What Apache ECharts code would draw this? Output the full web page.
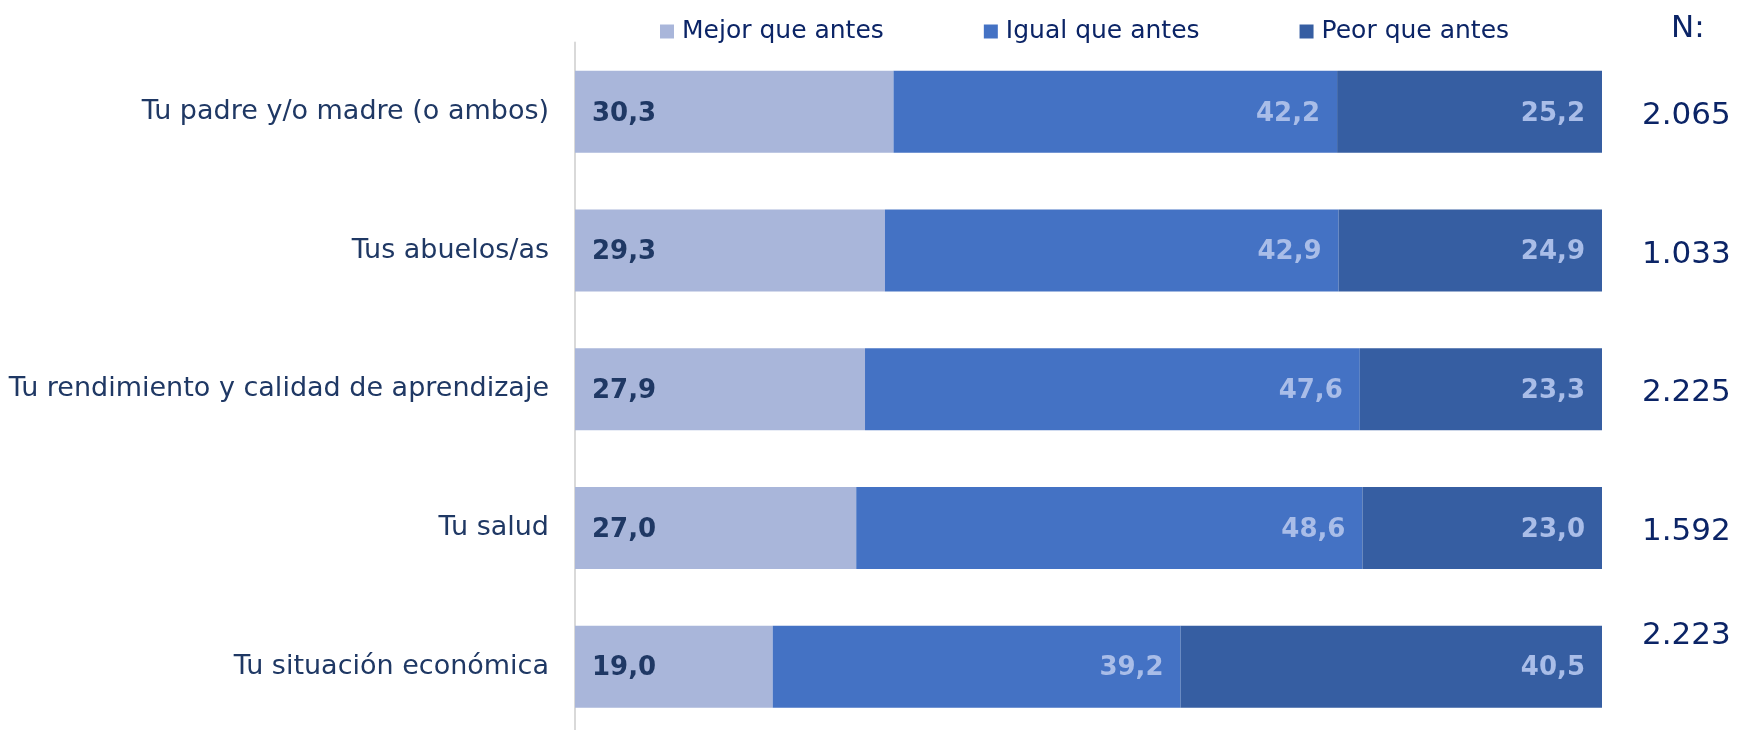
<!DOCTYPE html>
<html><head><meta charset="utf-8">
<script src="https://cdn.jsdelivr.net/npm/echarts@6/dist/echarts.min.js"></script>
<style>html,body{margin:0;padding:0;background:#fff}#c{width:1738px;height:730px}</style>
</head><body><div id="c"></div>
<script>
const categories = ['Tu padre y/o madre (o ambos)','Tus abuelos/as','Tu rendimiento y calidad de aprendizaje','Tu salud','Tu situación económica'];
const mejor = [30.3, 29.3, 27.9, 27.0, 19.0];
const igual = [42.2, 42.9, 47.6, 48.6, 39.2];
const peor  = [25.2, 24.9, 23.3, 23.0, 40.5];
const nValues = ['2.065','1.033','2.225','1.592','2.223'];
const seriesNames = ['Mejor que antes','Igual que antes','Peor que antes'];
const colors = ['#A9B6DA','#4472C4','#365EA2'];

const raw = [mejor, igual, peor];
const totals = categories.map((_, i) => mejor[i] + igual[i] + peor[i]);
const fmt = v => v.toFixed(1).replace('.', ',');
const FONT = 'DejaVu Sans';

const series = raw.map((arr, s) => ({
  name: seriesNames[s],
  type: 'bar',
  stack: 'all',
  barWidth: 82,
  itemStyle: { color: colors[s] },
  data: arr.map((v, i) => ({ value: v / totals[i] * 100, raw: v })),
  label: {
    show: true,
    position: s === 0 ? 'insideLeft' : 'insideRight',
    distance: 17,
    offset: [0, 2],
    fontFamily: FONT,
    fontWeight: 'bold',
    fontSize: 26,
    color: s === 0 ? '#1F3864' : '#A9BDE8',
    formatter: p => fmt(p.data.raw)
  }
}));

const chart = echarts.init(document.getElementById('c'), null, { renderer: 'canvas' });
chart.setOption({
  animation: false,
  title: {
    text: 'N:', left: 1666, top: 8,
    textStyle: { fontFamily: FONT, fontSize: 31, fontWeight: 'normal', color: '#0B2466' }
  },
  legend: {
    left: 660, top: 19, padding: 0,
    icon: 'rect', itemWidth: 14, itemHeight: 14, itemGap: 100,
    textStyle: { fontFamily: FONT, fontSize: 25, color: '#0B2466', padding: [0, 0, 0, 3] },
    data: seriesNames
  },
  grid: { left: 575, right: 136, top: 42.5, height: 693.5, containLabel: false, outerBoundsMode: 'none' },
  xAxis: { type: 'value', min: 0, max: 100, show: false },
  yAxis: [
    {
      type: 'category', data: categories, inverse: true,
      axisLine: { show: true, lineStyle: { color: '#D9D9D9', width: 2 } },
      axisTick: { show: false },
      axisLabel: { margin: 26, fontFamily: FONT, fontSize: 27, color: '#1F3864', padding: [4, 0, 0, 0] }
    },
    {
      type: 'category', data: categories, inverse: true, position: 'right',
      axisLine: { show: false }, axisTick: { show: false },
      axisLabel: {
        margin: 40, align: 'left', fontFamily: FONT, fontSize: 31, color: '#0B2466',
        formatter: (v, i) => i === categories.length - 1 ? '{up|' + nValues[i] + '}' : '{dn|' + nValues[i] + '}',
        rich: {
          up: { fontFamily: FONT, fontSize: 31, color: '#0B2466', padding: [0, 0, 62, 0] },
          dn: { fontFamily: FONT, fontSize: 31, color: '#0B2466', padding: [8, 0, 0, 0] }
        }
      }
    }
  ],
  series: series
});
</script>
</body></html>
